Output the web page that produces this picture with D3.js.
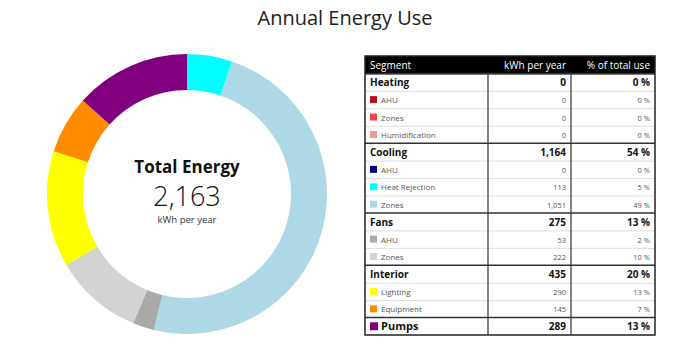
<!DOCTYPE html>
<html>
<head>
<meta charset="utf-8">
<script src="https://cdn.jsdelivr.net/npm/d3@7"></script>
<style>
  body { margin: 0; background: #fff; font-family: "Open Sans", "Noto Sans", sans-serif; }
</style>
</head>
<body>
<svg id="chart"></svg>
<script>
// groups and their sub segments
const groups = ['Heating', 'Cooling', 'Fans', 'Interior', 'Pumps'];
const segments = ['AHU', 'Zones', 'Humidification', 'AHU', 'Heat Rejection', 'Zones', 'AHU', 'Zones', 'Lighting', 'Equipment', 'Pumps'];
const segmentGroup = ['Heating', 'Heating', 'Heating', 'Cooling', 'Cooling', 'Cooling', 'Fans', 'Fans', 'Interior', 'Interior', 'Pumps'];
const kwh = [0, 0, 0, 0, 113, 1051, 53, 222, 290, 145, 289];
const colors = ['#b5121b', '#e8474c', '#f29a9a', '#00008b', '#00ffff', '#add8e6', '#a9a9a9', '#d3d3d3', '#ffff00', '#ff8c00', '#800080'];

const width = 691, height = 355;
const svg = d3.select('#chart').attr('width', width).attr('height', height);

svg.append('text')
    .attr('x', 345).attr('y', 25)
    .attr('text-anchor', 'middle')
    .style('font-size', '20px')
    .style('fill', '#222')
    .text('Annual Energy Use');

const total = d3.sum(kwh);
const fmt = d3.format(',');
const pct = v => Math.round(v / total * 100) + ' %';

// donut
const data = kwh.map((v, i) => ({ v, i }));
const pie = d3.pie().value(d => d.v).sort(null);
const arc = d3.arc().innerRadius(104).outerRadius(140);

const donut = svg.append('g').attr('transform', 'translate(187, 194)');
donut.selectAll('path')
    .data(pie(data))
    .join('path')
    .attr('d', arc)
    .attr('fill', d => colors[d.data.i]);

donut.append('text')
    .attr('y', -21).attr('text-anchor', 'middle')
    .style('font-size', '17px').style('font-weight', 'bold').style('fill', '#111')
    .text('Total Energy');
donut.append('text')
    .attr('y', 12).attr('text-anchor', 'middle')
    .style('font-size', '27px').style('font-weight', '300').style('fill', '#111')
    .text(fmt(total));
donut.append('text')
    .attr('y', 29).attr('text-anchor', 'middle')
    .style('font-size', '9.5px').style('fill', '#333')
    .text('kWh per year');

// table rows: header, then group row followed by its segments (Pumps only a group row)
const rows = [{ type: 'header' }];
groups.forEach(g => {
    const idx = segmentGroup.map((s, i) => s === g ? i : -1).filter(i => i >= 0);
    const sum = d3.sum(idx, i => kwh[i]);
    if (idx.length === 1 && segments[idx[0]] === g) {
        rows.push({ type: 'group', label: g, v: sum, color: colors[idx[0]] });
    } else {
        rows.push({ type: 'group', label: g, v: sum });
        idx.forEach(i => rows.push({ type: 'sub', label: segments[i], v: kwh[i], color: colors[i] }));
    }
});

const tx0 = 365, tx1 = 655, col1 = 488, col2 = 571;
const y = d3.scaleBand().domain(d3.range(rows.length)).range([56, 335]);
const table = svg.append('g');

const rg = table.selectAll('g.row')
    .data(rows)
    .join('g')
    .attr('class', 'row')
    .attr('transform', (d, i) => `translate(0, ${y(i)})`);

const bh = y.bandwidth();

rg.filter(d => d.type === 'header').append('rect')
    .attr('x', tx0).attr('width', tx1 - tx0).attr('height', bh + 1).attr('fill', '#000');

// light separators between sub rows
rg.filter(d => d.type === 'sub').append('line')
    .attr('x1', tx0).attr('x2', tx1).attr('y1', 0.5).attr('y2', 0.5)
    .attr('stroke', '#ddd').attr('stroke-width', 1);

// dark lines above group rows
rg.filter(d => d.type === 'group').append('line')
    .attr('x1', tx0).attr('x2', tx1).attr('y1', 0).attr('y2', 0)
    .attr('stroke', '#333').attr('stroke-width', 1.5);

// swatches
rg.filter(d => d.color).append('rect')
    .attr('x', 370).attr('y', d => d.type === 'group' ? bh / 2 - 4 : bh / 2 - 3.5)
    .attr('width', d => d.type === 'group' ? 8 : 7)
    .attr('height', d => d.type === 'group' ? 8 : 7)
    .attr('fill', d => d.color);

const textY = bh / 2 + 4;

const header = rg.filter(d => d.type === 'header');
header.append('text').attr('x', 370).attr('y', textY)
    .style('font-size', '10px').style('fill', '#fff').text('Segment');
header.append('text').attr('x', 566).attr('y', textY).attr('text-anchor', 'end')
    .style('font-size', '10px').style('fill', '#fff').text('kWh per year');
header.append('text').attr('x', 650).attr('y', textY).attr('text-anchor', 'end')
    .style('font-size', '10px').style('fill', '#fff').text('% of total use');

const body = rg.filter(d => d.type !== 'header');
body.append('text')
    .attr('x', d => d.color ? 381 : 370)
    .attr('y', d => d.type === 'group' ? textY : textY - 0.5)
    .style('font-size', d => d.type === 'group' ? (d.color ? '11px' : '10px') : '8px')
    .style('font-weight', d => d.type === 'group' ? 'bold' : 'normal')
    .style('fill', d => d.type === 'group' ? '#111' : '#555')
    .text(d => d.label);
body.append('text')
    .attr('x', 566).attr('text-anchor', 'end')
    .attr('y', d => d.type === 'group' ? textY : textY - 0.5)
    .style('font-size', d => d.type === 'group' ? '10px' : '7.5px')
    .style('font-weight', d => d.type === 'group' ? 'bold' : 'normal')
    .style('fill', d => d.type === 'group' ? '#111' : '#555')
    .text(d => fmt(d.v));
body.append('text')
    .attr('x', 650).attr('text-anchor', 'end')
    .attr('y', d => d.type === 'group' ? textY : textY - 0.5)
    .style('font-size', d => d.type === 'group' ? '10px' : '7.5px')
    .style('font-weight', d => d.type === 'group' ? 'bold' : 'normal')
    .style('fill', d => d.type === 'group' ? '#111' : '#555')
    .text(d => pct(d.v));

// column lines and outer border
[col1, col2].forEach(x => {
    table.append('line')
        .attr('x1', x).attr('x2', x).attr('y1', y(1)).attr('y2', 335)
        .attr('stroke', '#333').attr('stroke-width', 1.2);
});
table.append('rect')
    .attr('x', tx0).attr('y', 56).attr('width', tx1 - tx0).attr('height', 335 - 56)
    .attr('fill', 'none').attr('stroke', '#222').attr('stroke-width', 1.5);
</script>
</body>
</html>
